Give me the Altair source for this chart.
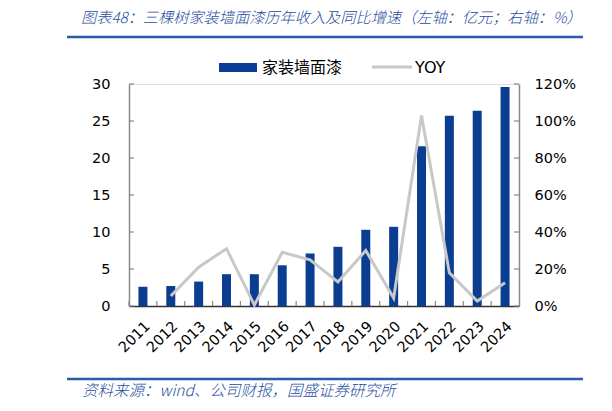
import altair as alt
import pandas as pd

years = ["2011", "2012", "2013", "2014", "2015", "2016", "2017", "2018",
         "2019", "2020", "2021", "2022", "2023", "2024"]
revenue = [2.6, 2.7, 3.3, 4.3, 4.3, 5.5, 7.1, 8.0, 10.3, 10.7, 21.6, 25.7, 26.4, 29.6]
yoy_years = years[1:]
yoy = [0.054, 0.21, 0.31, 0.005, 0.29, 0.25, 0.13, 0.30, 0.043, 1.03, 0.18, 0.027, 0.126]
left_ticks = [0, 5, 10, 15, 20, 25, 30]
right_ticks = [0, 0.2, 0.4, 0.6, 0.8, 1.0, 1.2]
series_names = ["家装墙面漆", "YOY"]
title_text = "图表48：三棵树家装墙面漆历年收入及同比增速（左轴：亿元；右轴：%）"
source_text = "资料来源：wind、公司财报，国盛证券研究所"

BLUE = "#0B3D93"
GRAY = "#C8C8C8"
TXT_BLUE = "#1F4E9E"
LINE_BLUE = "#2B5CA8"
NUMFONT = "DejaVu Sans"
CJK = "Noto Sans CJK SC"
W, H = 390, 222

rev_df = pd.DataFrame({"year": years, "rev": revenue})
yoy_df = pd.DataFrame({"year": yoy_years, "yoy": yoy})
lt_df = pd.DataFrame({"v": left_ticks})
rt_df = pd.DataFrame({"v": right_ticks})
one = pd.DataFrame({"a": [0]})

xscale = alt.Scale(paddingInner=0, paddingOuter=0)
xaxis = alt.Axis(title=None, labelAngle=-45, labelFontSize=14.5, labelFont=NUMFONT,
                 labelColor="#000", tickSize=0, labelPadding=13, domainColor="#333",
                 domainWidth=1.5)

bars = alt.Chart(rev_df).mark_bar(size=9, color=BLUE).encode(
    x=alt.X("year:N", scale=xscale, axis=xaxis),
    y=alt.Y("rev:Q", scale=alt.Scale(domain=[0, 30]),
            axis=alt.Axis(title=None, orient="left", values=left_ticks, grid=False,
                          tickSize=0, labelPadding=19, labelFontSize=14.5,
                          labelFont=NUMFONT, labelColor="#000", domainColor="#888",
                          domainWidth=1.5)),
)

line = alt.Chart(yoy_df).mark_line(color=GRAY, strokeWidth=3).encode(
    x=alt.X("year:N", scale=xscale, axis=xaxis),
    y=alt.Y("yoy:Q", scale=alt.Scale(domain=[0, 1.2]),
            axis=alt.Axis(title=None, orient="right", values=right_ticks, format=".0%",
                          grid=False, tickSize=0, labelPadding=15, labelFontSize=14.5,
                          labelFont=NUMFONT, labelColor="#000", domainColor="#888",
                          domainWidth=1.5)),
)

lticks = alt.Chart(lt_df).mark_rule(color="#888", strokeWidth=1.2).encode(
    y=alt.Y("v:Q", scale=alt.Scale(domain=[0, 30]), axis=None),
    x=alt.value(0), x2=alt.value(5),
)
rticks = alt.Chart(rt_df).mark_rule(color="#888", strokeWidth=1.2).encode(
    y=alt.Y("v:Q", scale=alt.Scale(domain=[0, 1.2]), axis=None),
    x=alt.value(W - 5), x2=alt.value(W),
)
bticks = alt.Chart(rev_df).mark_rule(color="#888", strokeWidth=1.2).encode(
    x=alt.X("year:N", bandPosition=0, scale=xscale, axis=xaxis),
    y=alt.value(H - 5), y2=alt.value(H),
)

# legend
leg_rect = alt.Chart(one).mark_rect(color=BLUE).encode(
    x=alt.value(90), x2=alt.value(128), y=alt.value(-21), y2=alt.value(-12))
leg_line = alt.Chart(one).mark_rule(color=GRAY, strokeWidth=3).encode(
    x=alt.value(243), x2=alt.value(283), y=alt.value(-17))
leg_t1 = alt.Chart(one).mark_text(text=series_names[0], font=CJK, fontSize=16,
                                  align="left", baseline="middle", color="#000").encode(
    x=alt.value(133), y=alt.value(-16))
leg_t2 = alt.Chart(one).mark_text(text=series_names[1], font=NUMFONT, fontSize=16,
                                  align="left", baseline="middle", color="#000").encode(
    x=alt.value(286), y=alt.value(-16))

# title & footer decorations
t_line = alt.Chart(one).mark_rule(color=LINE_BLUE, strokeWidth=2.5).encode(
    x=alt.value(-62), x2=alt.value(454), y=alt.value(-47))
t_seg = alt.Chart(one).mark_rule(color=LINE_BLUE, strokeWidth=2.5).encode(
    x=alt.value(479), x2=alt.value(500), y=alt.value(-47))
t_text = alt.Chart(one).mark_text(text=title_text, font=CJK, fontSize=15.2, fontStyle="italic",
                                  fontWeight=300, align="left", baseline="middle",
                                  color=TXT_BLUE).encode(
    x=alt.value(-48), y=alt.value(-66))
f_line = alt.Chart(one).mark_rule(color=LINE_BLUE, strokeWidth=2.5).encode(
    x=alt.value(-62), x2=alt.value(454), y=alt.value(295))
f_seg = alt.Chart(one).mark_rule(color=LINE_BLUE, strokeWidth=2.5).encode(
    x=alt.value(479), x2=alt.value(500), y=alt.value(295))
f_text = alt.Chart(one).mark_text(text=source_text, font=CJK, fontSize=15.5, fontStyle="italic",
                                  fontWeight=300, align="left", baseline="middle",
                                  color=TXT_BLUE).encode(
    x=alt.value(-47), y=alt.value(307))

chart = alt.layer(
    bars, line, lticks, rticks, bticks,
    leg_rect, leg_line, leg_t1, leg_t2,
    t_line, t_seg, t_text, f_line, f_seg, f_text,
).resolve_scale(y="independent").properties(
    width=W, height=H,
    autosize=alt.AutoSizeParams(type="none"),
    padding={"left": 121, "top": 76, "right": 85, "bottom": 97},
).configure_view(stroke=None).configure(background="white")

chart.save("out.html", embed_options={"renderer": "svg", "actions": False})
